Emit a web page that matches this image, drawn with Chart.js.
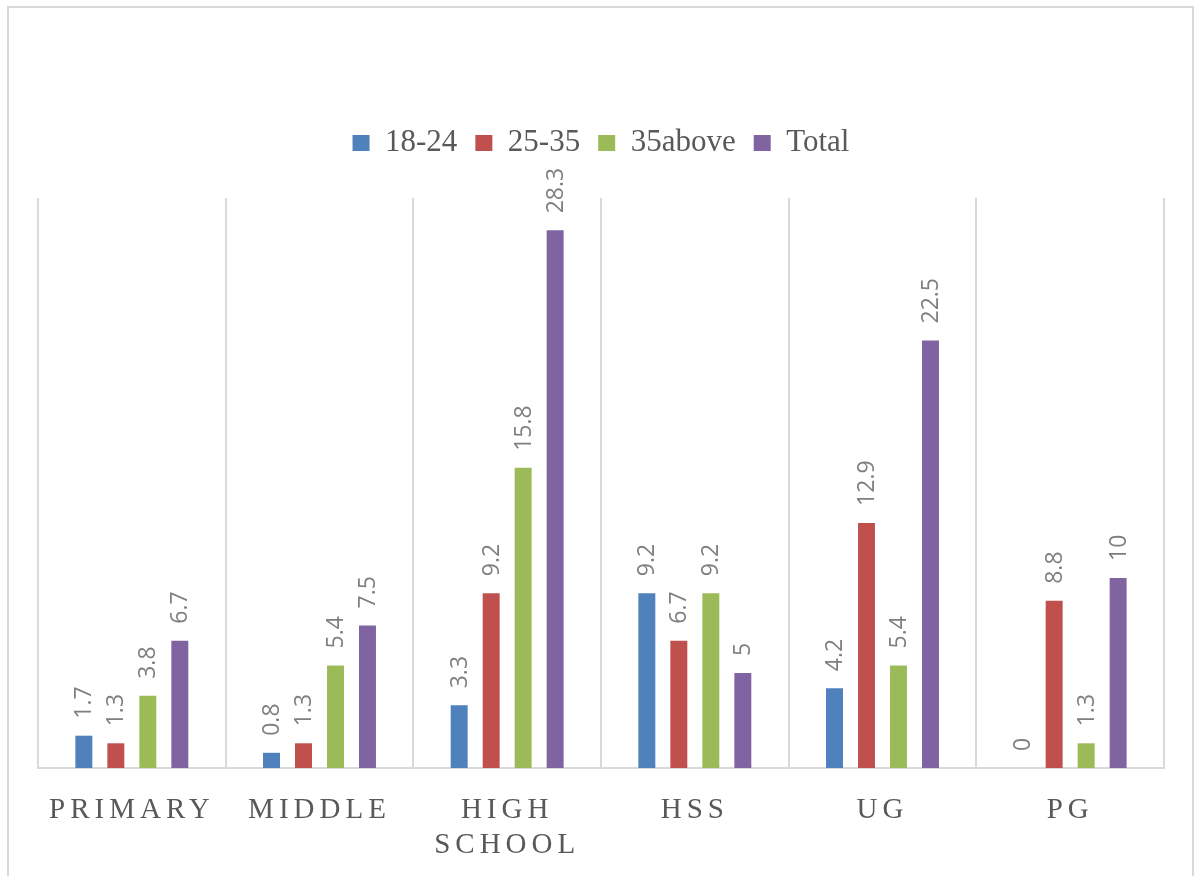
<!DOCTYPE html>
<html>
<head>
<meta charset="utf-8">
<script src="https://cdn.jsdelivr.net/npm/chart.js@4.4.1/dist/chart.umd.min.js"></script>
<style>
  html, body { margin: 0; padding: 0; background: #fff; overflow: hidden; }
  #wrap { position: relative; width: 1197px; height: 876px; }
  #frame {
    position: absolute; left: 7px; top: 6px; width: 1183px; height: 900px;
    border: 2px solid #d9d9d9; pointer-events: none;
  }
</style>
</head>
<body>
<div id="wrap">
  <canvas id="eduChart" width="1197" height="876"></canvas>
  <div id="frame"></div>
</div>
<script>
// categories and series
const categories = ["PRIMARY", "MIDDLE", ["HIGH", "SCHOOL"], "HSS", "UG", "PG"];
const age18to24 = [1.7, 0.8, 3.3, 9.2, 4.2, 0];
const age25to35 = [1.3, 1.3, 9.2, 6.7, 12.9, 8.8];
const age35above = [3.8, 5.4, 15.8, 9.2, 5.4, 1.3];
const totals = [6.7, 7.5, 28.3, 5, 22.5, 10];

const seriesNames = ["18-24", "25-35", "35above", "Total"];
const seriesColors = ["#4f81bd", "#c0504d", "#9bbb59", "#8064a2"];

// give the legend some extra room below it
const legendMargin = {
  id: "legendMargin",
  beforeInit(chart) {
    const fit = chart.legend.fit;
    chart.legend.fit = function () {
      fit.bind(chart.legend)();
      this.height += 29.5;
    };
  }
};

// spaced-out category labels
const spacedTicks = {
  id: "spacedTicks",
  afterUpdate(chart) {
    const sx = chart.scales.x;
    if (sx && !sx._spaced) {
      const orig = sx.drawLabels;
      sx.drawLabels = function (area) {
        const c = this.ctx;
        c.save();
        c.letterSpacing = "5px";
        orig.call(this, area);
        c.restore();
      };
      sx._spaced = true;
    }
  }
};

// vertical value labels above each bar
const barValues = {
  id: "barValues",
  afterDatasetsDraw(chart) {
    const c = chart.ctx;
    c.save();
    c.fillStyle = "#7f7f7f";
    c.font = '23px "Open Sans"';
    c.textAlign = "left";
    c.textBaseline = "middle";
    chart.data.datasets.forEach((ds, i) => {
      const meta = chart.getDatasetMeta(i);
      meta.data.forEach((bar, j) => {
        c.save();
        c.translate(bar.x + 1, bar.y - 17);
        c.rotate(-Math.PI / 2);
        c.fillText(String(ds.data[j]), 0, 0);
        c.restore();
      });
    });
    c.restore();
  }
};

const ctx = document.getElementById("eduChart").getContext("2d");
new Chart(ctx, {
  type: "bar",
  data: {
    labels: categories,
    datasets: [age18to24, age25to35, age35above, totals].map((d, i) => ({
      label: seriesNames[i],
      data: d,
      backgroundColor: seriesColors[i],
      borderWidth: 0,
      categoryPercentage: 0.682,
      barPercentage: 0.53
    }))
  },
  options: {
    responsive: false,
    animation: false,
    layout: { padding: { left: 38, right: 33, top: 109.5, bottom: -11.6 } },
    plugins: {
      legend: {
        position: "top",
        labels: {
          boxWidth: 17,
          boxHeight: 16,
          padding: 18,
          color: "#595959",
          font: { family: '"Liberation Serif", "Times New Roman", serif', size: 31 }
        }
      },
      tooltip: { enabled: false }
    },
    scales: {
      x: {
        grid: { color: "#d9d9d9", lineWidth: 2, drawTicks: false, offset: true },
        border: { display: true, color: "#d9d9d9", width: 2 },
        ticks: {
          padding: 25,
          color: "#595959",
          maxRotation: 0,
          font: { family: '"Liberation Serif", "Times New Roman", serif', size: 29 }
        }
      },
      y: {
        display: false,
        min: 0,
        max: 30
      }
    }
  },
  plugins: [legendMargin, spacedTicks, barValues]
});
</script>
</body>
</html>
